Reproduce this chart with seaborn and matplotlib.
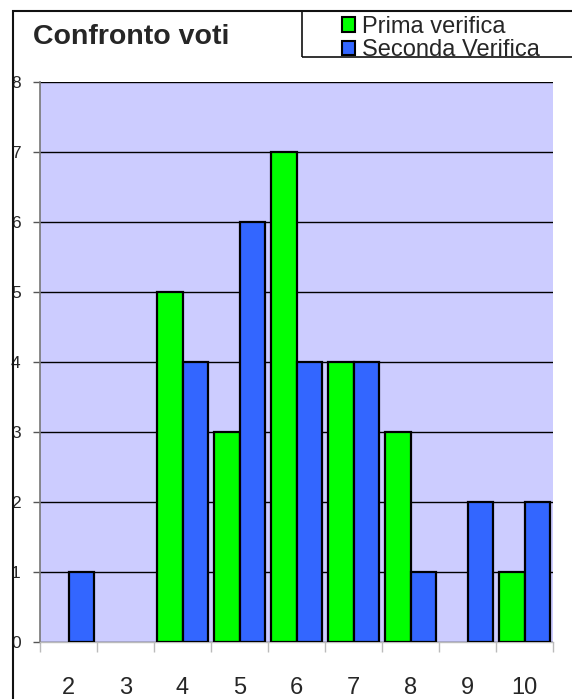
import matplotlib
matplotlib.use("Agg")
import matplotlib.pyplot as plt
from matplotlib.patches import Rectangle
from matplotlib.ticker import FixedLocator, NullFormatter
import seaborn as sns
import pandas as pd

grades = ["2", "3", "4", "5", "6", "7", "8", "9", "10"]
prima = [0, 0, 5, 3, 7, 4, 3, 0, 1]
seconda = [1, 0, 4, 6, 4, 4, 1, 2, 2]
series_names = ["Prima verifica", "Seconda Verifica"]
colors = ["#00FF00", "#3366FF"]
y_ticks = list(range(0, 9))

df = pd.DataFrame({
    "voto": grades * 2,
    "count": prima + seconda,
    "verifica": [series_names[0]] * len(grades) + [series_names[1]] * len(grades),
})

sns.set_style("white")
plt.rcParams["font.family"] = ["Liberation Sans", "DejaVu Sans"]

W, H = 572, 699
fig = plt.figure(figsize=(W / 100, H / 100), dpi=100)
ax = fig.add_axes([40 / W, 1 - 642 / H, (553 - 40) / W, (642 - 82) / H])
ax.set_facecolor("#CCCCFF")

sns.barplot(data=df, x="voto", y="count", hue="verifica", order=grades,
            hue_order=series_names, palette=colors, saturation=1, width=0.9, gap=0,
            edgecolor="black", linewidth=1.6, ax=ax, legend=False, zorder=3)

# empty bars leave no outline on the baseline
for p in ax.patches:
    if p.get_height() == 0:
        p.set_visible(False)

ax.set_ylim(0, 8)
ax.set_xlim(-0.5, len(grades) - 0.5)
ax.set_yticks(y_ticks)
ax.set_yticklabels([str(t) for t in y_ticks])
ax.yaxis.grid(True, color="black", linewidth=1.0, zorder=1)
ax.set_axisbelow(True)
ax.tick_params(axis="y", length=5, width=1, color="#555555", pad=9, left=True,
               labelsize=12.5)
ax.tick_params(axis="x", which="major", length=0, pad=25, labelsize=17)
ax.xaxis.set_minor_locator(FixedLocator([i - 0.5 for i in range(len(grades) + 1)]))
ax.xaxis.set_minor_formatter(NullFormatter())
ax.tick_params(axis="x", which="minor", length=7, width=1, color="#BBBBBB", bottom=True)
ax.set_xlabel("")
ax.set_ylabel("")
for s in ["top", "right"]:
    ax.spines[s].set_visible(False)
ax.spines["left"].set_color("#777777")
ax.spines["left"].set_linewidth(1.2)
ax.spines["bottom"].set_color("#BBBBBB")
ax.spines["bottom"].set_linewidth(1.0)

# outer frame and legend box
fig.add_artist(Rectangle((12.5 / W, -0.05), 1.2, 1 - 11 / H + 0.05, transform=fig.transFigure,
                         fill=False, edgecolor="#111111", linewidth=1.5))
fig.add_artist(Rectangle((302 / W, 1 - 57 / H), 1.0, 46 / H, transform=fig.transFigure,
                         fill=False, edgecolor="#111111", linewidth=1.2))

fig.text(33 / W, 1 - 37 / H, "Confronto voti", fontsize=20.5, fontweight="bold",
         ha="left", va="center")

handles = [Rectangle((0, 0), 1, 1, facecolor=c, edgecolor="black", linewidth=1.5) for c in colors]
fig.legend(handles, series_names, loc="upper left", bbox_to_anchor=(330 / W, 1 - 4 / H),
           frameon=False, fontsize=17, handlelength=0.55, handleheight=0.55,
           handletextpad=0.3, labelspacing=0.07, borderpad=0.0)

fig.savefig("out.png", dpi=100)
